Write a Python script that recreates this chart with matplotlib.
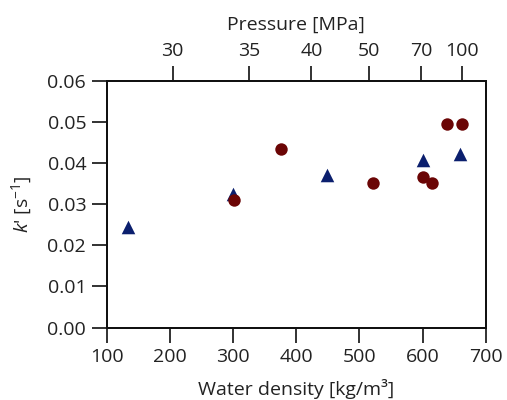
"""Rate constant k' against water density, with pressure on the top axis."""

import matplotlib

matplotlib.use("Agg")
import matplotlib.pyplot as plt

plt.rcParams["font.family"] = ["Open Sans", "DejaVu Sans"]
plt.rcParams["mathtext.fontset"] = "custom"
plt.rcParams["mathtext.rm"] = "Open Sans"
plt.rcParams["mathtext.it"] = "Open Sans:italic"

# series
triangle_density = [133, 300, 449, 600, 660]
triangle_k = [0.0245, 0.0324, 0.0371, 0.0408, 0.0422]

circle_density = [301, 375, 521, 600, 615, 638, 662]
circle_k = [0.0311, 0.0435, 0.0352, 0.0365, 0.0351, 0.0495, 0.0495]

# pressure ticks on top and the densities they sit at
pressure_labels = ["30", "35", "40", "50", "70", "100"]
pressure_density = [204, 325, 424, 515, 598, 662]

density_ticks = [100, 200, 300, 400, 500, 600, 700]
k_ticks = [0.00, 0.01, 0.02, 0.03, 0.04, 0.05, 0.06]

FS = 14

fig = plt.figure(figsize=(5.07, 4.0), dpi=100)
ax = fig.add_axes([0.211, 0.181, 0.747, 0.617])

ax.scatter(triangle_density, triangle_k, marker="^", s=95, color="#0b1f6e",
           linewidths=0, zorder=3)
ax.scatter(circle_density, circle_k, marker="o", s=80, color="#6b0505",
           linewidths=0, zorder=3)

ax.set_xlim(100, 700)
ax.set_ylim(0, 0.06)
ax.set_xticks(density_ticks)
ax.set_yticks(k_ticks)
ax.set_yticklabels([f"{v:.2f}" for v in k_ticks])
ax.set_xlabel("Water density [kg/m³]", fontsize=FS, labelpad=9, color="#222222")
ax.set_ylabel(r"$k$' [s$^{-1}$]", fontsize=FS, labelpad=10, color="#222222")

top = ax.twiny()
top.set_xlim(ax.get_xlim())
top.set_xticks(pressure_density)
top.set_xticklabels(pressure_labels)
top.set_xlabel("Pressure [MPa]", fontsize=FS, labelpad=9, color="#222222")

for a in (ax, top):
    a.tick_params(direction="out", length=11, width=1.3, labelsize=FS,
                  colors="#222222", pad=4)
    for spine in a.spines.values():
        spine.set_linewidth(1.4)
        spine.set_color("#111111")

fig.savefig("out.png", dpi=100)
